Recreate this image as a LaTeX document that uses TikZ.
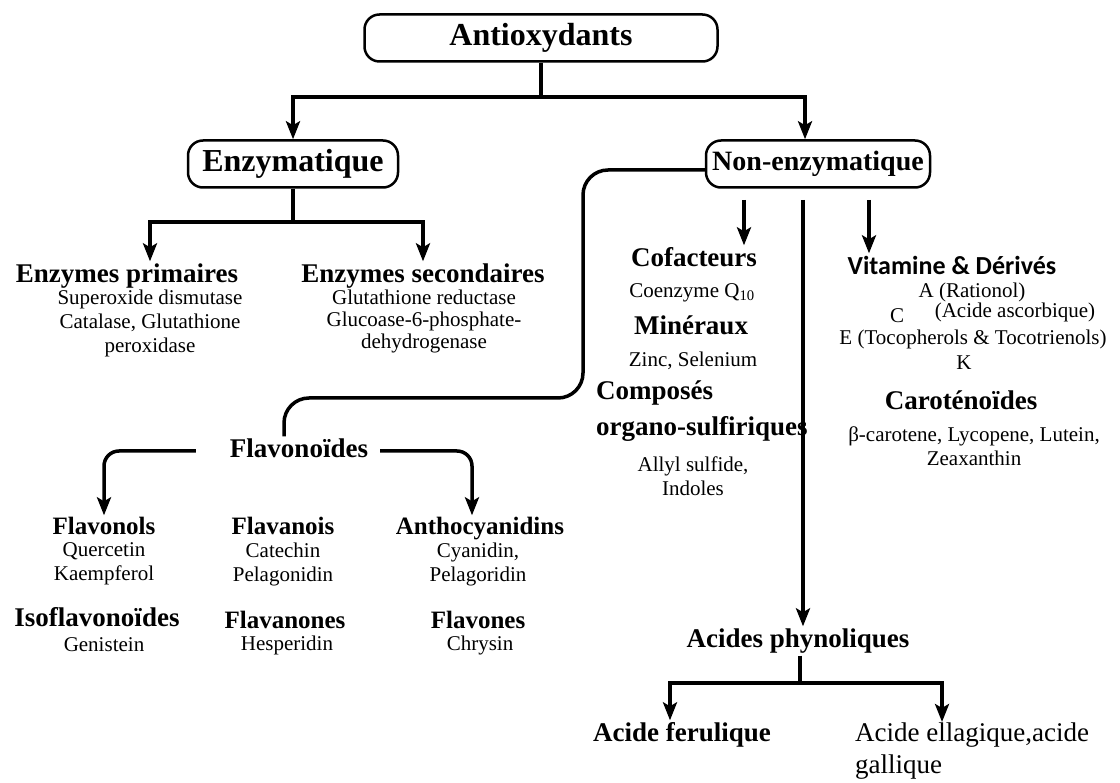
\documentclass[tikz,border=0pt]{standalone}
\usepackage{fontspec}
\setmainfont{Liberation Serif}
\newfontfamily\sansfont{Carlito}
\usetikzlibrary{arrows.meta}

\tikzset{
  rootbox/.style={draw, line width=2.5pt, rounded corners=15pt, minimum height=47pt, font=\bfseries\fontsize{32}{36}\selectfont},
  head/.style={font=\bfseries\fontsize{27}{30}\selectfont, inner sep=2pt, text height=19pt, text depth=6pt},
  subhead/.style={head, font=\bfseries\fontsize{25}{28}\selectfont, text height=17.5pt, text depth=5.5pt},
  body/.style={font=\fontsize{21}{24}\selectfont, align=center, inner sep=1pt},
  link/.style={line width=3.5pt},
  arrow/.style={link, -{Stealth[length=18pt, width=14pt, inset=4pt]}},
}

\begin{document}
\begin{tikzpicture}[x=1pt, y=-1pt]
\useasboundingbox (0,0) rectangle (1120,783);

\node [rootbox, minimum width=353pt] (anti) at (541,38) {Antioxydants};
\node [rootbox, minimum width=210pt] (enz) at (293,164) {Enzymatique};
\node [rootbox, minimum width=224pt, font=\bfseries\fontsize{28}{32}\selectfont] (nonenz) at (818,164) {Non-enzymatique};

\coordinate (split) at (541,97);
\draw [link] (anti.south) -- (split);
\draw [arrow] (split) -| (enz.north);
\draw [arrow] (split) -| ([xshift=-13pt]nonenz.north);

\node [head] (prim) at (127,276) {Enzymes primaires};
\node [body] (primtxt) at (150,323) {Superoxide dismutase\\Catalase, Glutathione\\peroxidase};
\node [head] (sec) at (423,276) {Enzymes secondaires};
\node [body, font=\fontsize{21}{22}\selectfont] (sectxt) at (424,321) {Glutathione reductase\\Glucoase-6-phosphate-\\dehydrogenase};

\coordinate (enzsplit) at (293,222);
\draw [link] (enz.south) -- (enzsplit);
\draw [arrow] (enzsplit) -| (primtxt.north |- prim.north);
\draw [arrow] (enzsplit) -| (sec.north);

\node [head] (cof) at (694,260) {Cofacteurs};
\node [body] (coenz) at (692,293) {Coenzyme Q\textsubscript{10}};
\node [head] (min) at (691,328) {Minéraux};
\node [body] (zinc) at (693,361) {Zinc, Selenium};
\node [head, anchor=west] (comp) at (594,393) {Composés};
\node [head, anchor=west] (orgs) at (594,429) {organo-sulfiriques};
\node [body] (allyl) at (693,476) {Allyl sulfide,\\Indoles};

\coordinate (cofin) at (744,200);
\draw [arrow] (cofin) -- (cofin |- cof.north);

\node [head, font=\sansfont\bfseries\fontsize{26}{30}\selectfont] (vit) at (952,268) {Vitamine \& Dérivés};
\node [body] (vita) at (972,292) {A (Rationol)};
\node [body] (vitc) at (897,316) {C};
\node [body, inner sep=0pt] (vitcname) at (1015,312) {(Acide ascorbique)};
\node [body] (vite) at (973,339) {E (Tocopherols \& Tocotrienols)};
\node [body] (vitk) at (964,363) {K};
\node [head] (carot) at (961,403) {Caroténoïdes};
\node [body] (carottxt) at (974,446) {β-carotene, Lycopene, Lutein,\\Zeaxanthin};

\coordinate (vitin) at (869,200);
\draw [arrow] (vitin) -- (vitin |- vit.north);

\node [head] (acph) at (798,641) {Acides phynoliques};
\coordinate (phin) at (803,200);
\draw [arrow] (phin) -- (phin |- acph.north);

\node [head] (fer) at (682,735) {Acide ferulique};
\node [body, anchor=north west, align=left, font=\fontsize{27}{32}\selectfont] (ella) at (854,722) {Acide ellagique,acide\\gallique};

\coordinate (acsplit) at (800,683);
\draw [link] (acph.south -| acsplit) -- (acsplit);
\draw [arrow] (acsplit) -| ([xshift=-12pt]fer.north);
\draw [arrow] (acsplit) -| ([xshift=88pt]ella.north west);

\node [head] (flav) at (299,451) {Flavonoïdes};

\node [subhead] (flavonols) at (104,529) {Flavonols};
\node [body] (flavonolstxt) at (104,564) {Quercetin\\Kaempferol};
\node [subhead] (flavanols) at (283,529) {Flavanois};
\node [body] (flavanolstxt) at (283,564) {Catechin\\Pelagonidin};
\node [subhead] (antho) at (480,529) {Anthocyanidins};
\node [body] (anthotxt) at (478,564) {Cyanidin,\\Pelagoridin};

\node [head] (isofl) at (97,620) {Isoflavonoïdes};
\node [body] (isofltxt) at (104,645) {Genistein};
\node [subhead] (flavanones) at (285,622) {Flavanones};
\node [body] (flavanonestxt) at (287,645) {Hesperidin};
\node [subhead] (flavones) at (478,622) {Flavones};
\node [body] (flavonestxt) at (480,645) {Chrysin};

\draw [link, rounded corners=25pt] ([yshift=-6pt]nonenz.west) -| (583,398) -| ([xshift=-15pt]flav.north);
\draw [arrow, rounded corners=15pt] ([xshift=-32pt]flav.west) -| (flavonols.north);
\draw [arrow, rounded corners=15pt] ([xshift=10pt]flav.east) -| ([xshift=-8pt]antho.north);
\end{tikzpicture}
\end{document}
